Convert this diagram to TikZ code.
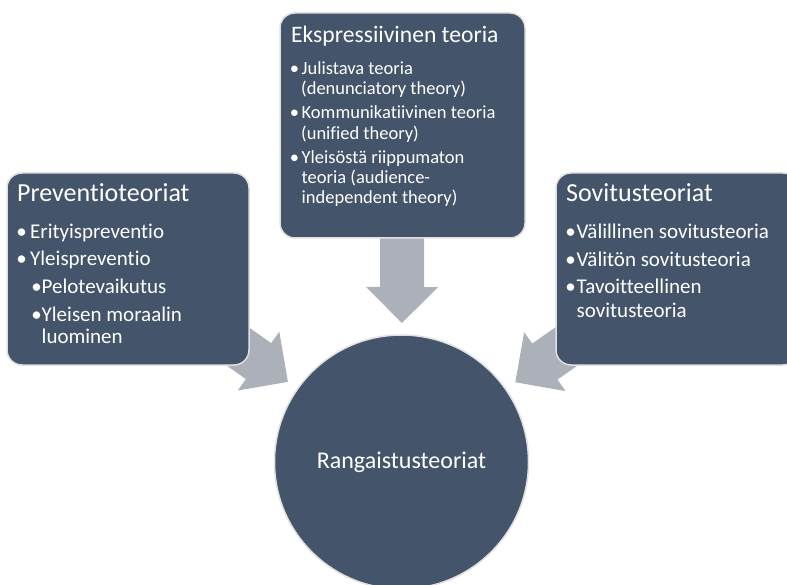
\documentclass[tikz,border=0pt]{standalone}
\usepackage{fontspec}
\setmainfont{Carlito}[Ligatures=NoCommon]
\usetikzlibrary{calc}
\definecolor{boxfill}{HTML}{44546A}
\definecolor{arrowfill}{RGB}{172,176,184}
\definecolor{edgegray}{RGB}{224,224,224}
\pgfdeclarelayer{back}
\pgfdeclarelayer{bg}
\pgfsetlayers{back,bg,main}
\newcommand{\myblockarrow}[1]{%
  \coordinate (tip-#1) at ($(circ.center)!139pt!(#1.center)$);
  \coordinate (hb-#1) at ($(circ.center)!175pt!(#1.center)$);
  \fill[arrowfill] (tip-#1)
    -- ($(hb-#1)!36pt!90:(#1.center)$)
    -- ($(hb-#1)!22pt!90:(#1.center)$)
    -- ($(#1.center)!22pt!-90:(hb-#1)$)
    -- ($(#1.center)!22pt!90:(hb-#1)$)
    -- ($(hb-#1)!22pt!-90:(#1.center)$)
    -- ($(hb-#1)!36pt!-90:(#1.center)$)
    -- cycle;}
\begin{document}
\begin{tikzpicture}[x=1pt,y=-1pt,
  panel/.style={draw=edgegray, line width=1.5pt, fill=boxfill, rounded corners=15pt, inner sep=0pt},
  txt/.style={text=white, inner sep=0pt, anchor=base west},
  ttl/.style={txt, font=\fontsize{26}{30}\selectfont},
  ttltop/.style={txt, font=\fontsize{23.6}{28}\selectfont},
  body/.style={txt, font=\fontsize{21}{25}\selectfont},
  bodytop/.style={txt, font=\fontsize{18.5}{22}\selectfont},
  bul/.style={text=white, inner sep=0pt, anchor=base, font=\fontsize{21}{25}\selectfont},
  bultop/.style={text=white, inner sep=0pt, anchor=base, font=\fontsize{18.5}{22}\selectfont}]
  \useasboundingbox (0,0) rectangle (787,585);
  \begin{pgfonlayer}{back}
    \fill[white] (0,0) rectangle (787,585);
  \end{pgfonlayer}
  \clip (0,0) rectangle (787,585);

  % shapes
  \node[panel, minimum width=242pt, minimum height=192pt] (lbox) at (128,269) {};
  \node[panel, minimum width=242pt, minimum height=192pt] (rbox) at (677,269) {};
  \node[panel, minimum width=245pt, minimum height=225pt] (tbox) at (402.5,125.5) {};
  \node[circle, draw=edgegray, line width=1.5pt, fill=boxfill, minimum size=254pt, inner sep=0pt,
        text=white, font=\fontsize{24}{28}\selectfont] (circ) at (401.5,462) {Rangaistusteoriat};

  % block arrows behind the boxes
  \begin{pgfonlayer}{bg}
    \myblockarrow{lbox}
    \myblockarrow{rbox}
    \myblockarrow{tbox}
  \end{pgfonlayer}

  % left box text
  \node[ttl] (l0) at (17,202) {Preventioteoriat};
  \node[bul] (lb1) at (21.5,238.3) {•};
  \node[body] (l1) at (30,238.3) {Erityispreventio};
  \node[bul] (lb2) at (21.5,265.7) {•};
  \node[body] (l2) at (30,265.7) {Yleispreventio};
  \node[bul] (lb3) at (36.5,293.3) {•};
  \node[body] (l3) at (41.5,293.3) {Pelotevaikutus};
  \node[bul] (lb4) at (36.5,321) {•};
  \node[body] (l4) at (41.5,321) {Yleisen moraalin};
  \node[body] (l5) at (41.5,343.3) {luominen};

  % right box text
  \node[ttl] (r0) at (566,202) {Sovitusteoriat};
  \node[bul] (rb1) at (570.5,239) {•};
  \node[body] (r1) at (576.5,239) {Välillinen sovitusteoria};
  \node[bul] (rb2) at (570.5,266.5) {•};
  \node[body] (r2) at (576.5,266.5) {Välitön sovitusteoria};
  \node[bul] (rb3) at (570.5,293.5) {•};
  \node[body] (r3) at (576.5,293.5) {Tavoitteellinen};
  \node[body] (r4) at (576.5,317) {sovitusteoria};

  % top box text
  \node[ttltop] (t0) at (291,42.3) {Ekspressiivinen teoria};
  \node[bultop] (tb1) at (294.5,74.3) {•};
  \node[bodytop] (t1) at (301.5,74.3) {Julistava teoria};
  \node[bodytop] (t2) at (301,94.5) {(denunciatory theory)};
  \node[bultop] (tb2) at (294.5,118.5) {•};
  \node[bodytop] (t3) at (301.5,118.5) {Kommunikatiivinen teoria};
  \node[bodytop] (t4) at (301,139.5) {(unified theory)};
  \node[bultop] (tb3) at (294.5,163.5) {•};
  \node[bodytop] (t5) at (301.5,163.5) {Yleisöstä riippumaton};
  \node[bodytop] (t6) at (301.5,184) {teoria (audience-};
  \node[bodytop] (t7) at (301.5,204) {independent theory)};
\end{tikzpicture}
\end{document}
